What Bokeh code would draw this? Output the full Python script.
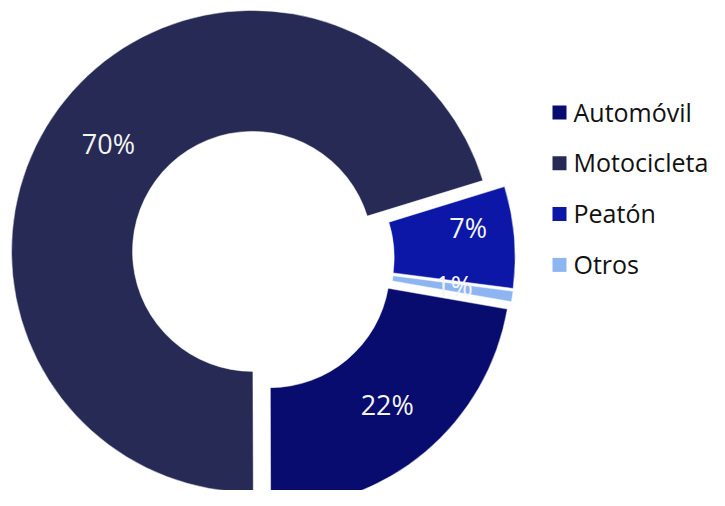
import numpy as np
from bokeh.plotting import figure
from bokeh.models import ColumnDataSource, Range1d
from bokeh.core.properties import value
from bokeh.embed import file_html
from bokeh.resources import INLINE

# ---- data ----
categories = ["Automóvil", "Motocicleta", "Peatón", "Otros"]
shares = [22.2, 70.3, 6.8, 0.7]
pct_labels = ["22%", "70%", "7%", "1%"]
colors = ["#070c6e", "#262a55", "#0c17a8", "#8db5f2"]

# ---- style / geometry (pixel space, y up) ----
W, H = 709, 490
PAGE_H = 506
CX, CY = 261.7, PAGE_H - 258.0
R_OUT, R_IN = 241, 120
SLICE_OFF = 12
START_DEG = -9.9          # slices run clockwise from here
LABEL_R = 182
label_dr = [0, -3, 14, 0]
label_dang = [0, 0, 3.3, 0]
FONT = "Open Sans"

vals = np.array(shares, dtype=float)
cum = np.cumsum(vals) / vals.sum() * 360.0
cw_start = START_DEG - np.concatenate([[0.0], cum[:-1]])
cw_end = START_DEG - cum
start_rad = np.deg2rad(cw_end)
end_rad = np.deg2rad(cw_start)
mid = (start_rad + end_rad) / 2
xs = CX + SLICE_OFF * np.cos(mid)
ys = CY + SLICE_OFF * np.sin(mid)

src = ColumnDataSource(dict(x=xs, y=ys, s=start_rad, e=end_rad, c=colors))

p = figure(width=W, height=H, output_backend="svg", toolbar_location=None,
           x_range=Range1d(0, W), y_range=Range1d(PAGE_H - H, PAGE_H),
           min_border=0)
p.axis.visible = False
p.grid.visible = False
p.outline_line_color = None
p.background_fill_color = "white"

p.annular_wedge(x="x", y="y", inner_radius=R_IN, outer_radius=R_OUT,
                start_angle="s", end_angle="e", fill_color="c",
                line_color="white", line_width=0.5, source=src)

lr = LABEL_R + np.array(label_dr)
la = mid + np.deg2rad(label_dang)
lsrc = ColumnDataSource(dict(x=xs + lr * np.cos(la), y=ys + lr * np.sin(la), t=pct_labels))
p.text(x="x", y="y", text="t", source=lsrc, text_align="center", text_baseline="middle",
       text_color="#f4f4f4", text_font=value(FONT), text_font_size="27px", y_offset=-2)

# legend
LEG_X = 559
LEG_TOP = 112
LEG_STEP = 50.8
SQ = 14
leg_y = [PAGE_H - (LEG_TOP + i * LEG_STEP) for i in range(len(categories))]
legsrc = ColumnDataSource(dict(x=[LEG_X] * len(categories), y=leg_y,
                               tx=[LEG_X + 14] * len(categories), t=categories, c=colors))
p.rect(x="x", y="y", width=SQ, height=SQ, fill_color="c", line_color=None, source=legsrc)
p.text(x="tx", y="y", text="t", source=legsrc, text_align="left", text_baseline="middle",
       text_color="#111111", text_font=value(FONT), text_font_size="25px", y_offset=-1)

open("out.html", "w").write(file_html(p, INLINE))
